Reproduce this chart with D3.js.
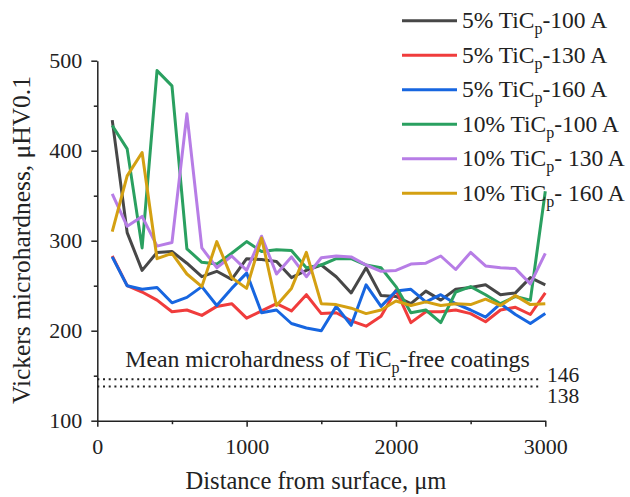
<!DOCTYPE html>
<html>
<head>
<meta charset="utf-8">
<script src="https://cdn.jsdelivr.net/npm/d3@7"></script>
<style>
  html, body { margin: 0; padding: 0; background: #fff; }
  svg { display: block; font-family: "Liberation Serif", "Times New Roman", serif; }
</style>
</head>
<body>
<svg id="chart" width="630" height="497"></svg>
<script>
// ---- data ----
const distances = [100,200,300,400,500,600,700,800,900,1000,1100,1200,1300,1400,1500,1600,1700,1800,1900,2000,2100,2200,2300,2400,2500,2600,2700,2800,2900,3000];
const seriesNames = ["5% TiC|p|-100 A", "5% TiC|p|-130 A", "5% TiC|p|-160 A", "10% TiC|p|-100 A", "10% TiC|p|- 130 A", "10% TiC|p|- 160 A"];
const ti5_100 = [434,309,267,287,288,275,260,266,257,280,279,277,259,267,273,260,242,270,239,238,230,244,234,246,248,251,240,242,259,251];
const ti5_130 = [283,250,243,234,221,223,217,227,230,214,222,230,222,240,219,220,211,205,216,245,209,221,221,223,219,210,223,226,218,242];
const ti5_160 = [282,250,246,248,231,237,249,228,247,264,220,223,208,203,200,227,206,251,227,244,246,232,240,230,223,215,230,218,208,219];
const ti10_100 = [428,402,292,489,472,291,276,274,286,299,288,290,289,270,273,280,280,273,270,249,220,223,209,243,249,240,230,238,234,355];
const ti10_130 = [352,316,327,294,298,441,292,270,283,267,305,263,282,260,281,283,282,273,266,267,274,275,283,268,287,272,270,269,252,286];
const ti10_160 = [310,372,398,280,286,263,249,299,259,247,303,228,247,287,230,229,225,219,223,233,228,232,228,230,229,235,228,239,229,230];
const seriesValues = [ti5_100, ti5_130, ti5_160, ti10_100, ti10_130, ti10_160];
const colors = ["#474747", "#f03c3c", "#1766e0", "#2aa060", "#b77de6", "#d4a012"];
const meanLevels = [146, 138];
const meanLabel = "Mean microhardness of TiC|p|-free coatings";
const xTicks = [0, 1000, 2000, 3000];
const xMinor = [500, 1500, 2500];
const yTicks = [100, 200, 300, 400, 500];
const yMinor = [150, 250, 350, 450];
const xTitle = "Distance from surface, μm";
const yTitle = "Vickers microhardness, μHV0.1";

// ---- layout ----
const svg = d3.select("#chart");
const x = d3.scaleLinear().domain([0, 3000]).range([97.3, 545.3]);
const y = d3.scaleLinear().domain([100, 500]).range([420.7, 60.7]);

// text with subscripts marked as |sub|
function richText(sel, str, subSize, shift) {
  const parts = str.split("|");
  let pendingUp = false;
  parts.forEach((p, i) => {
    if (!p) return;
    if (i % 2 === 1) {
      sel.append("tspan").attr("font-size", subSize).attr("dy", shift).text(p);
      pendingUp = true;
    } else {
      const t = sel.append("tspan").text(p);
      if (pendingUp) { t.attr("dy", -shift); pendingUp = false; }
    }
  });
}

// mean lines
meanLevels.forEach(v => {
  svg.append("line")
    .attr("x1", x(0)).attr("x2", x(3000) - 6)
    .attr("y1", y(v)).attr("y2", y(v))
    .attr("stroke", "#222").attr("stroke-width", 2)
    .attr("stroke-dasharray", "2,3.7");
});
svg.append("text").attr("x", 547).attr("y", 381.7).attr("font-size", 21.5).attr("fill", "#222").text(String(meanLevels[0]));
svg.append("text").attr("x", 547).attr("y", 403.3).attr("font-size", 21.5).attr("fill", "#222").text(String(meanLevels[1]));
const mt = svg.append("text").attr("x", 327.5).attr("y", 366.5).attr("font-size", 23.8)
  .attr("text-anchor", "middle").attr("fill", "#222");
richText(mt, meanLabel, 16, 6);

// lines
const line = d3.line().x((d, i) => x(distances[i])).y(d => y(d));
seriesValues.forEach((vals, k) => {
  svg.append("path").datum(vals)
    .attr("d", line)
    .attr("fill", "none")
    .attr("stroke", colors[k])
    .attr("stroke-width", 3)
    .attr("stroke-linejoin", "round");
});

// axes
const axisColor = "#222";
const xAxis = svg.append("g").attr("transform", `translate(0,${y(100)})`)
  .call(d3.axisBottom(x).tickValues(xTicks).tickSize(6).tickSizeOuter(0).tickPadding(12).tickFormat(d3.format("d")));
const xAxisMinor = svg.append("g").attr("transform", `translate(0,${y(100)})`)
  .call(d3.axisBottom(x).tickValues(xMinor).tickSize(3.5).tickSizeOuter(0).tickFormat(""));
const yAxis = svg.append("g").attr("transform", `translate(${x(0)},0)`)
  .call(d3.axisLeft(y).tickValues(yTicks).tickSize(6).tickSizeOuter(0).tickPadding(9).tickFormat(d3.format("d")));
const yAxisMinor = svg.append("g").attr("transform", `translate(${x(0)},0)`)
  .call(d3.axisLeft(y).tickValues(yMinor).tickSize(3.5).tickSizeOuter(0).tickFormat(""));
[xAxis, xAxisMinor, yAxis, yAxisMinor].forEach(g => {
  g.selectAll("path").attr("stroke", axisColor).attr("stroke-width", 1.5);
  g.selectAll("line").attr("stroke", axisColor).attr("stroke-width", 1.5);
  g.selectAll("text").attr("font-family", "Liberation Serif").attr("font-size", 22).attr("fill", "#222");
});
xAxisMinor.selectAll("text").remove();
yAxisMinor.selectAll("text").remove();
xAxisMinor.select("path").remove();
yAxisMinor.select("path").remove();

// titles
svg.append("text").attr("x", 316).attr("y", 489).attr("text-anchor", "middle")
  .attr("font-size", 24.5).attr("fill", "#222").text(xTitle);
svg.append("text").attr("transform", "translate(30,240) rotate(-90)").attr("text-anchor", "middle")
  .attr("font-size", 25.5).attr("fill", "#222").text(yTitle);

// legend
const legend = svg.append("g");
seriesNames.forEach((name, k) => {
  const cy = 20.7 + k * 34.5;
  legend.append("line").attr("x1", 402).attr("x2", 457).attr("y1", cy).attr("y2", cy)
    .attr("stroke", colors[k]).attr("stroke-width", 3);
  const t = legend.append("text").attr("x", 462).attr("y", cy + 7.7).attr("font-size", 23.5).attr("fill", "#222");
  richText(t, name, 16, 6);
});
</script>
</body>
</html>
